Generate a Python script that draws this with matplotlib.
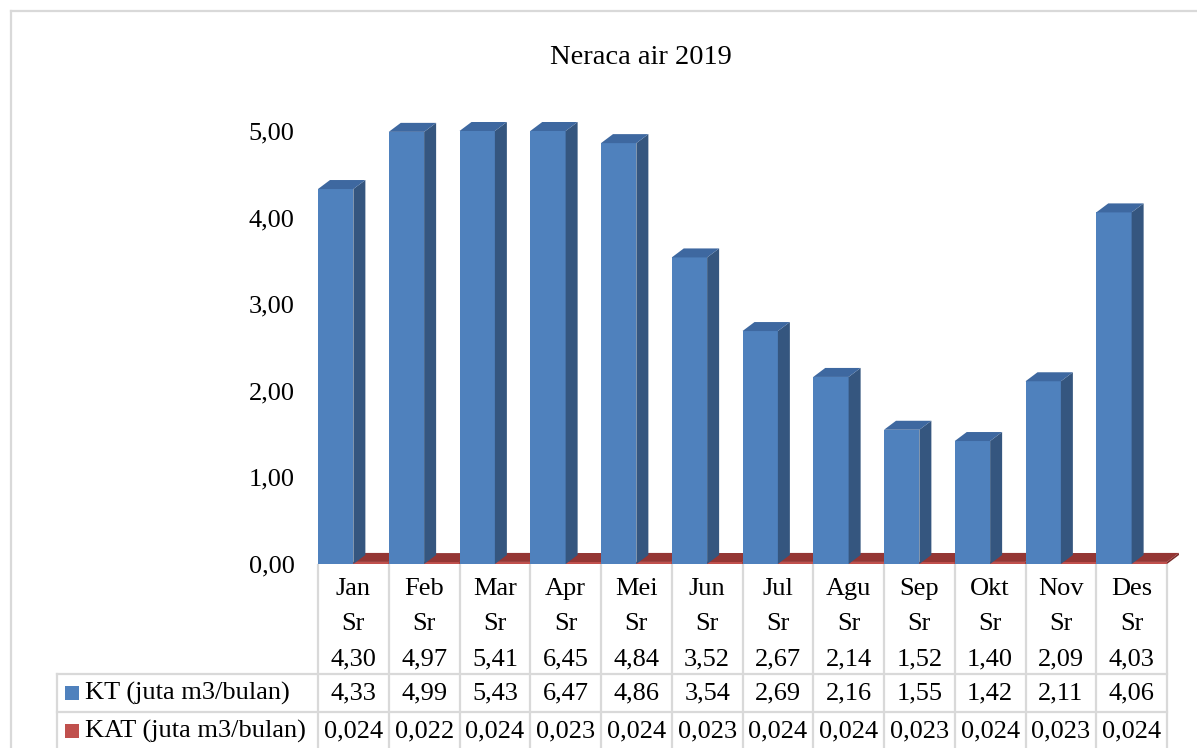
"""
Neraca air 2019: 3D-style clustered columns with a data table underneath.
"""
import matplotlib.pyplot as plt
import numpy as np
from matplotlib.lines import Line2D
from matplotlib.patches import Polygon, Rectangle

MONTHS = ["Jan", "Feb", "Mar", "Apr", "Mei", "Jun",
          "Jul", "Agu", "Sep", "Okt", "Nov", "Des"]
SR = [4.30, 4.97, 5.41, 6.45, 4.84, 3.52, 2.67, 2.14, 1.52, 1.40, 2.09, 4.03]
KT = [4.33, 4.99, 5.43, 6.47, 4.86, 3.54, 2.69, 2.16, 1.55, 1.42, 2.11, 4.06]
KAT = [0.024, 0.022, 0.024, 0.023, 0.024, 0.023,
       0.024, 0.024, 0.023, 0.024, 0.023, 0.024]
SERIES = ["KT (juta m3/bulan)", "KAT (juta m3/bulan)"]
TITLE = "Neraca air 2019"
YMAX = 5.0

BLUE = {"front": "#4F81BD", "side": "#35567F", "top": "#3E68A0"}
RED = {"front": "#C0504D", "side": "#7a2b29", "top": "#943634"}
GRID = "#d9d9d9"
FONT = "Liberation Serif"

W, H = 1197, 748


def fmt(v, nd):
    return f"{v:.{nd}f}".replace(".", ",")


def bar3d(ax, x0, width, h, col, dx, dy):
    h = min(h, YMAX)
    ax.add_patch(Polygon([(x0, 0), (x0 + width, 0), (x0 + width, h), (x0, h)],
                         closed=True, fc=col["front"], lw=0, clip_on=False))
    ax.add_patch(Polygon([(x0 + width, 0), (x0 + width + dx, dy),
                          (x0 + width + dx, h + dy), (x0 + width, h)],
                         closed=True, fc=col["side"], lw=0, clip_on=False))
    ax.add_patch(Polygon([(x0, h), (x0 + width, h),
                          (x0 + width + dx, h + dy), (x0 + dx, h + dy)],
                         closed=True, fc=col["top"], lw=0, clip_on=False))


def main():
    fig = plt.figure(figsize=(W / 100, H / 100), dpi=100)

    # plot area in pixel terms
    px_left, px_right = 318, 1167
    px_zero, px_top = 564, 131
    col_w = (px_right - px_left) / len(MONTHS)

    ax = fig.add_axes([px_left / W, 1 - px_zero / H,
                       (px_right - px_left) / W, (px_zero - px_top) / H])
    ax.set_xlim(0, len(MONTHS))
    ax.set_ylim(0, YMAX)
    for s in ax.spines.values():
        s.set_visible(False)
    ax.set_xticks([])
    ticks = np.arange(0, YMAX + 0.01, 1.0)
    ax.set_yticks(ticks)
    ax.set_yticklabels([fmt(t, 2) for t in ticks], fontsize=19, family=FONT)
    ax.tick_params(axis="y", length=0, pad=17)

    px_per_unit = (px_zero - px_top) / YMAX
    dx = 12 / col_w
    dy = 9 / px_per_unit
    bw = 0.5

    # red (back row) first, so the blue side faces cover it
    for i, v in enumerate(KAT):
        bar3d(ax, i + bw, bw, v, RED, dx, dy)
    for i, v in enumerate(KT):
        bar3d(ax, i, bw, v, BLUE, dx, dy)

    fig.text(641 / W, 1 - 57 / H, TITLE, ha="center", va="center",
             fontsize=20.5, family=FONT)

    # overlay in pixel coords for the data table and frame
    ov = fig.add_axes([0, 0, 1, 1], zorder=-1)
    ov.set_xlim(0, W)
    ov.set_ylim(H, 0)
    ov.axis("off")

    def line(x0, y0, x1, y1, lw=1.6):
        ov.add_line(Line2D([x0, x1], [y0, y1], color=GRID, lw=lw))

    # chart frame
    line(10.5, 10.5, W + 5, 10.5)
    line(10.5, 10.5, 10.5, H + 5)

    row1, row2 = 674, 712
    for i in range(len(MONTHS) + 1):
        x = px_left + i * col_w
        line(x, px_zero + 1, x, H + 5)
    line(57, row1, px_right, row1)
    line(57, row2, px_right, row2)
    line(57, row1, 57, H + 5)

    for i, m in enumerate(MONTHS):
        cx = px_left + (i + 0.5) * col_w
        for y, s in [(589, m), (624, "Sr"), (659, fmt(SR[i], 2)),
                     (693, fmt(KT[i], 2)), (731, fmt(KAT[i], 3))]:
            ov.text(cx, y, s, ha="center", va="center", fontsize=19,
                    family=FONT)

    for y, name, col in [(693, SERIES[0], BLUE["front"]),
                         (731, SERIES[1], RED["front"])]:
        ov.add_patch(Rectangle((65, y - 7), 14, 14, fc=col, lw=0))
        ov.text(85, y, name, ha="left", va="center", fontsize=19, family=FONT)

    fig.savefig("out.png", dpi=100, facecolor="white")
    plt.close(fig)


if __name__ == "__main__":
    main()
